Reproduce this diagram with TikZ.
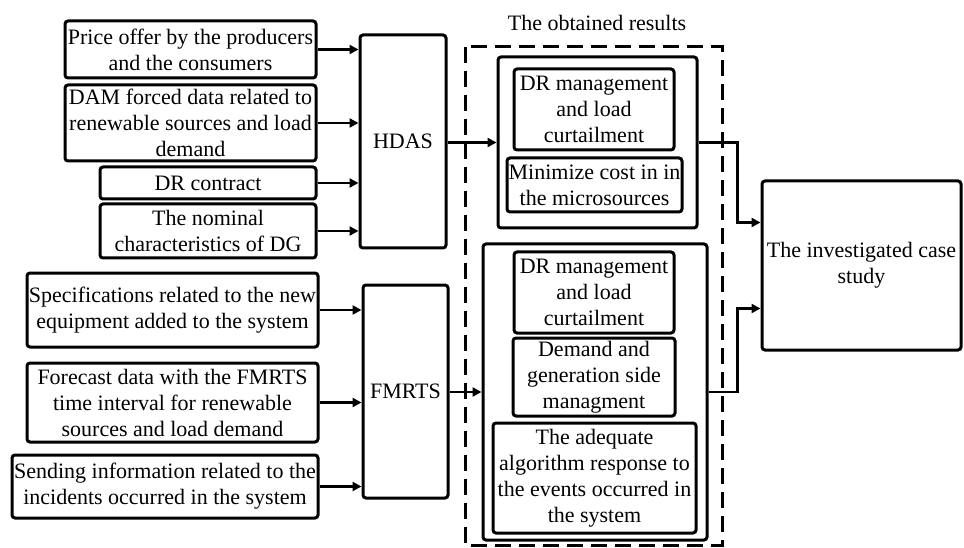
\documentclass[tikz,border=0pt]{standalone}
\usepackage{fontspec}
\setmainfont{Liberation Serif}
\usetikzlibrary{arrows.meta,positioning}
\begin{document}
\begin{tikzpicture}[x=1pt,y=-1pt,
  every node/.style={font=\fontsize{22}{26}\selectfont},
  box/.style={draw, line width=3pt, rounded corners=3pt, inner sep=0pt,
    align=center, minimum width=#1},
  conn/.style={line width=2.8pt, -{Triangle[length=9pt,width=9pt]}},
  groupbox/.style={draw, line width=3pt, rounded corners=3pt, inner sep=0pt},
]
\useasboundingbox (0,0) rectangle (964,548);

% input boxes for HDAS
\node[box=251, minimum height=57] (p1) at (190.5,49.5) {Price offer by the producers\\and the consumers};
\node[box=251, minimum height=76] (p2) at (190.5,123) {DAM forced data related to\\renewable sources and load\\demand};
\node[box=216, minimum height=32] (p3) at (208,183) {DR contract};
\node[box=216, minimum height=54] (p4) at (208,231) {The nominal\\characteristics of DG};
\node[box=86, minimum height=213] (hdas) at (403,141.5) {HDAS};

% input boxes for FMRTS
\node[box=291, minimum height=74] (s1) at (172.5,310) {Specifications related to the new\\equipment added to the system};
\node[box=291, minimum height=79] (s2) at (172.5,402.5) {Forecast data with the FMRTS\\time interval for renewable\\sources and load demand};
\node[box=306, minimum height=63] (s3) at (165,486.5) {Sending information related to the\\incidents occurred in the system};
\node[box=85, minimum height=213] (fmrts) at (405.5,391.5) {FMRTS};

% results frame
\draw[line width=3pt, dash pattern=on 16pt off 8pt] (465,47) rectangle (722,545);
\node (title) at (597,23) {The obtained results};

% upper result group
\node[groupbox, minimum width=199, minimum height=171] (g1) at (597.5,142.5) {};
\node[box=160, minimum height=81] (r1) at (594,109.5) {DR management\\and load\\curtailment};
\node[box=175, minimum height=54] (r2) at (594.5,185) {Minimize cost in in\\the microsources};

% lower result group
\node[groupbox, minimum width=224, minimum height=296] (g2) at (595,392) {};
\node[box=160, minimum height=81] (r3) at (594,292.5) {DR management\\and load\\curtailment};
\node[box=162, minimum height=78] (r4) at (594,377) {Demand and\\generation side\\managment};
\node[box=203, minimum height=110] (r5) at (594.5,478) {The adequate\\algorithm response to\\the events occurred in\\the system};

% case study
\node[box=199, minimum height=169] (case) at (861.5,265.5) {The investigated case\\study};

% connectors
\draw[conn] (p1.east) -- (p1.east -| hdas.west);
\draw[conn] (p2.east) -- (p2.east -| hdas.west);
\draw[conn] (p3.east) -- (p3.east -| hdas.west);
\draw[conn] (p4.east) -- (p4.east -| hdas.west);
\draw[conn] (s1.east) -- (s1.east -| fmrts.west);
\draw[conn] (s2.east) -- (s2.east -| fmrts.west);
\draw[conn] (s3.east) -- (s3.east -| fmrts.west);
\draw[conn] (g1.west -| hdas.east) -- (g1.west);
\draw[conn] (g2.west -| fmrts.east) -- (g2.west);
\draw[conn] (g1.east) -- ++(39,0) |- ([yshift=43pt]case.west);
\draw[conn] (g2.east) -- ++(29,0) |- ([yshift=-43pt]case.west);
\end{tikzpicture}
\end{document}
